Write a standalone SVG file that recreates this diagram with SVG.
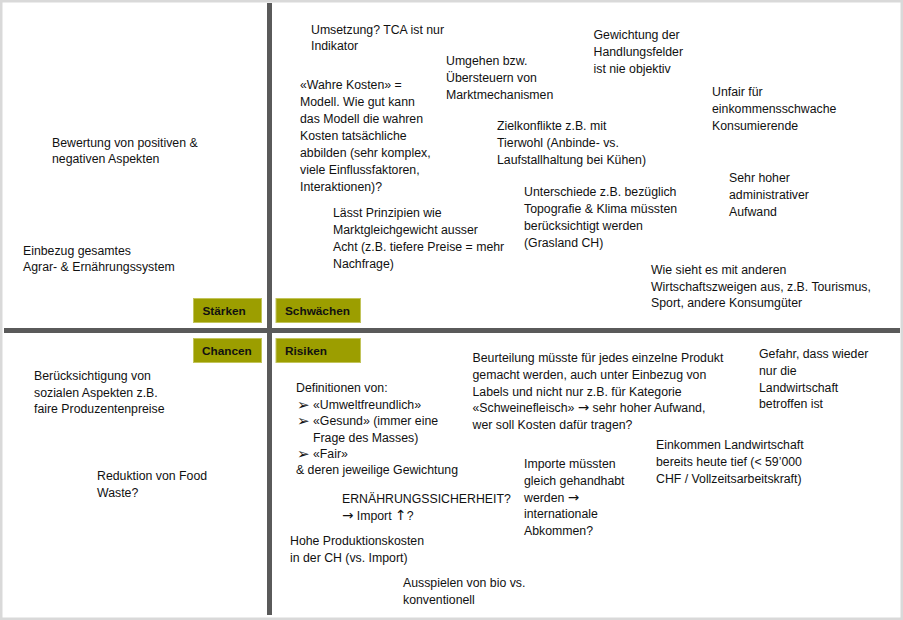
<svg xmlns="http://www.w3.org/2000/svg" width="903" height="620" viewBox="0 0 903 620">
<style>
  .t { font-family: "Liberation Sans", Arial, sans-serif; font-size: 12.3px; fill: #111111; }
  .lbl { font-family: "Liberation Sans", Arial, sans-serif; font-size: 11.8px; font-weight: bold; fill: #111111; }
  .box { fill: #9c9e00; stroke: #c2c45a; stroke-width: 1; }
  .axis { stroke: #5a5a5a; stroke-width: 5; }
  .bul { font-family: "DejaVu Sans", sans-serif; font-size: 15px; fill: #111111; }
  .ar { font-family: "DejaVu Sans", sans-serif; font-size: 13.5px; }
  .up { font-family: "DejaVu Sans", sans-serif; font-size: 14px; }
</style>
<rect x="1.25" y="1.25" width="900.5" height="617.5" fill="#ffffff" stroke="#d9d9d9" stroke-width="2.5"/>
<g id="connectors">
  <line class="axis" x1="269.5" y1="3" x2="269.5" y2="615"/>
  <line class="axis" x1="4" y1="330.5" x2="900" y2="330.5"/>
</g>
<g id="label-staerken"><rect class="box" x="193.5" y="298.5" width="68" height="24"/><text class="lbl" x="202.5" y="315">Stärken</text></g>
<g id="label-schwaechen"><rect class="box" x="276" y="298.5" width="84.5" height="24"/><text class="lbl" x="285" y="315">Schwächen</text></g>
<g id="label-chancen"><rect class="box" x="193.5" y="338.5" width="68" height="24"/><text class="lbl" x="202" y="355">Chancen</text></g>
<g id="label-risiken"><rect class="box" x="276" y="338.5" width="84.5" height="24"/><text class="lbl" x="285" y="355">Risiken</text></g>

<g id="s1"><text class="t" x="52" y="146.5">Bewertung von positiven &amp;<tspan x="52" dy="16.5">negativen Aspekten</tspan></text></g>
<g id="s2"><text class="t" x="23" y="254.5">Einbezug gesamtes<tspan x="23" dy="16.5">Agrar- &amp; Ernährungssystem</tspan></text></g>

<g id="w1"><text class="t" x="311" y="33.5">Umsetzung? TCA ist nur<tspan x="311" dy="16.5">Indikator</tspan></text></g>
<g id="w2"><text class="t" x="300" y="89">«Wahre Kosten» =<tspan x="300" dy="17">Modell. Wie gut kann</tspan><tspan x="300" dy="17">das Modell die wahren</tspan><tspan x="300" dy="17">Kosten tatsächliche</tspan><tspan x="300" dy="17">abbilden (sehr komplex,</tspan><tspan x="300" dy="17">viele Einflussfaktoren,</tspan><tspan x="300" dy="17">Interaktionen)?</tspan></text></g>
<g id="w3"><text class="t" x="446" y="64.5">Umgehen bzw.<tspan x="446" dy="17">Übersteuern von</tspan><tspan x="446" dy="17">Marktmechanismen</tspan></text></g>
<g id="w4"><text class="t" x="593.5" y="38.5">Gewichtung der<tspan x="593.5" dy="17">Handlungsfelder</tspan><tspan x="593.5" dy="17">ist nie objektiv</tspan></text></g>
<g id="w5"><text class="t" x="712" y="95.5">Unfair für<tspan x="712" dy="17">einkommensschwache</tspan><tspan x="712" dy="17">Konsumierende</tspan></text></g>
<g id="w6"><text class="t" x="497" y="129.5">Zielkonflikte z.B. mit<tspan x="497" dy="17">Tierwohl (Anbinde- vs.</tspan><tspan x="497" dy="17">Laufstallhaltung bei Kühen)</tspan></text></g>
<g id="w7"><text class="t" x="729" y="181.5">Sehr hoher<tspan x="729" dy="17">administrativer</tspan><tspan x="729" dy="17">Aufwand</tspan></text></g>
<g id="w8"><text class="t" x="524" y="195.5">Unterschiede z.B. bezüglich<tspan x="524" dy="17">Topografie &amp; Klima müssten</tspan><tspan x="524" dy="17">berücksichtigt werden</tspan><tspan x="524" dy="17">(Grasland CH)</tspan></text></g>
<g id="w9"><text class="t" x="333" y="216.5">Lässt Prinzipien wie<tspan x="333" dy="17">Marktgleichgewicht ausser</tspan><tspan x="333" dy="17">Acht (z.B. tiefere Preise = mehr</tspan><tspan x="333" dy="17">Nachfrage)</tspan></text></g>
<g id="w10"><text class="t" x="651" y="273.5">Wie sieht es mit anderen<tspan x="651" dy="17">Wirtschaftszweigen aus, z.B. Tourismus,</tspan><tspan x="651" dy="16.5">Sport, andere Konsumgüter</tspan></text></g>

<g id="c1"><text class="t" x="34" y="380">Berücksichtigung von<tspan x="34" dy="16.5">sozialen Aspekten z.B.</tspan><tspan x="34" dy="16.5">faire Produzentenpreise</tspan></text></g>
<g id="c2"><text class="t" x="97" y="479.5">Reduktion von Food<tspan x="97" dy="17">Waste?</tspan></text></g>

<g id="r1">
  <text class="t" x="296" y="392">Definitionen von:</text>
  <text class="bul" x="297" y="409.5">➢</text><text class="t" x="313" y="408.5">«Umweltfreundlich»</text>
  <text class="bul" x="297" y="426">➢</text><text class="t" x="313" y="425">«Gesund» (immer eine</text>
  <text class="t" x="313" y="441.5">Frage des Masses)</text>
  <text class="bul" x="297" y="458.5">➢</text><text class="t" x="313" y="457.5">«Fair»</text>
  <text class="t" x="296" y="474">&amp; deren jeweilige Gewichtung</text>
</g>
<g id="r2"><text class="t" x="342" y="502.5">ERNÄHRUNGSSICHERHEIT?<tspan x="342" dy="17"><tspan class="ar">→</tspan>  Import <tspan class="up">↑</tspan>?</tspan></text></g>
<g id="r3"><text class="t" x="290" y="544.5">Hohe Produktionskosten<tspan x="290" dy="17">in der CH (vs. Import)</tspan></text></g>
<g id="r4"><text class="t" x="403" y="586.5">Ausspielen von bio vs.<tspan x="403" dy="17">konventionell</tspan></text></g>
<g id="r5"><text class="t" x="472.5" y="361.5">Beurteilung müsste für jedes einzelne Produkt<tspan x="472.5" dy="17">gemacht werden, auch unter Einbezug von</tspan><tspan x="472.5" dy="17">Labels und nicht nur z.B. für Kategorie</tspan><tspan x="472.5" dy="16.5">«Schweinefleisch» <tspan class="ar">→</tspan> sehr hoher Aufwand,</tspan><tspan x="472.5" dy="17">wer soll Kosten dafür tragen?</tspan></text></g>
<g id="r6"><text class="t" x="759" y="357.5">Gefahr, dass wieder<tspan x="759" dy="17">nur die</tspan><tspan x="759" dy="17">Landwirtschaft</tspan><tspan x="759" dy="16.5">betroffen ist</tspan></text></g>
<g id="r7"><text class="t" x="656" y="448.5">Einkommen Landwirtschaft<tspan x="656" dy="17">bereits heute tief (&lt; 59’000</tspan><tspan x="656" dy="17">CHF / Vollzeitsarbeitskraft)</tspan></text></g>
<g id="r8"><text class="t" x="524" y="467.5">Importe müssten<tspan x="524" dy="17">gleich gehandhabt</tspan><tspan x="524" dy="17">werden <tspan class="ar">→</tspan></tspan><tspan x="524" dy="16.5">internationale</tspan><tspan x="524" dy="16.5">Abkommen?</tspan></text></g>
</svg>
